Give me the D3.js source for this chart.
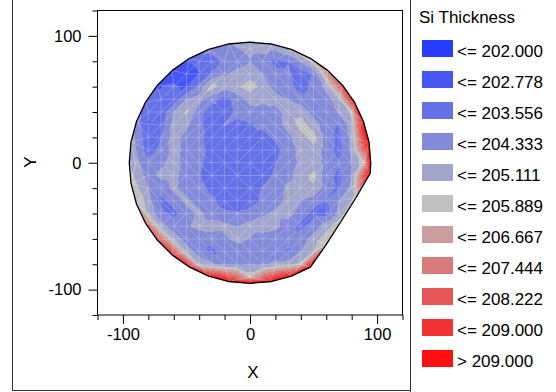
<!DOCTYPE html>
<html><head><meta charset="utf-8">
<script src="https://cdn.jsdelivr.net/npm/d3@7"></script>
<style>
body{margin:0;background:#fff}
svg{display:block}
text{font-family:Arial,"Liberation Sans",sans-serif;fill:#000}
</style>
</head><body>
<svg id="chart" width="556" height="392"></svg>
<script>
// ---- data (X, Y in mm; thickness values) ----
const gridX = [-90,-80,-70,-60,-50,-40,-30,-20,-10,0,10,20,30,40,50,60,70,80,90];
const gridY = [90,80,70,60,50,40,30,20,10,0,-10,-20,-30,-40,-50,-60,-70,-80,-90];
const _ = null;
const thicknessGrid = [
 [_,_,_,_,_,_,_,_,_,204.5,_,_,_,_,_,_,_,_,_],
 [_,_,_,_,_,203.2,203.0,203.8,204.0,204.3,204.0,203.3,203.5,204.4,_,_,_,_,_],
 [_,_,_,_,202.0,202.7,203.7,204.2,204.6,204.7,204.3,203.8,203.7,203.1,203.6,_,_,_,_],
 [_,_,_,202.9,202.6,203.8,205.4,204.7,205.0,205.5,204.8,204.0,203.8,203.2,203.8,204.6,_,_,_],
 [_,_,202.9,203.0,204.3,204.6,203.8,203.2,203.9,204.6,204.7,204.6,204.3,203.8,203.9,204.0,204.8,_,_],
 [_,202.9,203.0,204.3,205.2,203.8,203.1,203.0,203.8,204.0,203.6,204.0,204.7,204.9,204.0,203.8,204.4,205.3,_],
 [_,202.7,203.2,204.6,204.5,203.7,203.2,203.6,203.3,203.5,203.8,204.0,204.6,205.4,204.7,203.9,203.5,204.8,_],
 [_,203.0,203.5,204.7,204.0,203.8,203.1,203.0,203.1,203.2,203.2,203.7,204.1,204.8,205.4,204.0,203.3,204.6,_],
 [_,203.1,203.8,204.6,204.1,203.8,203.3,203.0,202.9,203.0,203.1,203.3,203.9,204.6,204.9,203.9,203.3,204.5,_],
 [204.6,203.8,204.2,204.7,204.0,203.7,203.2,203.0,202.9,203.0,203.1,203.5,203.9,204.5,204.8,204.0,203.6,204.3,205.6],
 [_,204.0,204.5,204.6,203.9,203.6,203.1,202.9,203.0,203.1,203.2,203.7,204.1,204.7,205.3,203.8,203.4,204.3,_],
 [_,204.3,203.9,204.5,204.0,203.8,203.3,203.1,203.0,203.2,203.6,203.9,204.5,204.7,205.0,203.9,203.4,204.6,_],
 [_,204.6,203.3,203.9,204.5,204.0,203.7,203.2,203.1,203.2,203.7,204.0,204.5,204.3,203.9,203.5,204.3,_,_],
 [_,204.9,203.8,203.3,204.0,204.5,204.0,203.7,203.6,203.8,204.2,204.5,204.6,204.0,203.3,203.2,204.6,_,_],
 [_,_,204.6,203.9,204.2,204.6,204.7,204.5,204.3,204.6,204.7,204.5,204.0,203.3,203.9,204.7,_,_,_],
 [_,_,_,204.8,204.0,203.8,203.9,204.2,204.5,204.3,204.0,203.9,203.8,204.0,204.6,_,_,_,_],
 [_,_,_,_,204.7,204.0,203.3,203.9,204.0,203.9,203.8,204.0,203.4,204.3,205.1,_,_,_,_],
 [_,_,_,_,_,204.8,204.4,204.1,204.1,204.3,204.2,204.5,204.7,205.3,_,_,_,_,_],
 [_,_,_,_,_,_,_,_,_,205.6,_,_,_,_,_,_,_,_,_]
];
// wafer edge measurement points
const edgeX = [95,93.6,89.3,82.3,72.8,61.1,47.5,32.5,16.5,0,-16.5,-32.5,-47.5,-61.1,-72.8,-82.3,-89.3,-93.6,-95,-93.6,-89.3,-82.3,-72.8,-61.1,-47.5,-32.5,-16.5,0,16.5,32.5,47.5,59.8,71.7,83.5,94.6];
const edgeY = [0,16.5,32.5,47.5,61.1,72.8,82.3,89.3,93.6,95,93.6,89.3,82.3,72.8,61.1,47.5,32.5,16.5,0,-16.5,-32.5,-47.5,-61.1,-72.8,-82.3,-89.3,-93.6,-95,-93.6,-89.3,-82.3,-64.8,-46.1,-27.4,-8.3];
const edgeThickness = [209.7,209.6,209.3,208.8,208.0,206.8,205.6,205.1,204.8,204.6,204.3,203.8,203.0,202.3,202.7,203.2,203.9,204.7,205.1,205.5,206.0,207.3,208.0,208.5,208.8,209.1,209.4,209.5,209.3,209.2,209.5,206.0,205.4,205.3,209.6];

const levels = [202.000,202.778,203.556,204.333,205.111,205.889,206.667,207.444,208.222,209.000];
const levelColors = ["#283cff","#4656f2","#6571e6","#838bd9","#a2a6cd","#c0c0c0","#cd9d9d","#d97a7a","#e65656","#f23333","#ff1010"];
const legendTitle = "Si Thickness";
const axisTicks = [-120,-100,-80,-60,-40,-20,0,20,40,60,80,100,120];
const majorTicks = [-100,0,100];
const xTitle = "X", yTitle = "Y";

// ---- drawing ----
const svg = d3.select("#chart");
const xs = d3.scaleLinear().domain([-120,120]).range([97.5,402.5]);
const ys = d3.scaleLinear().domain([-120,120]).range([315,10.5]);

// outer frame
svg.append("path").attr("d","M12.5,0V390.5H410.5V0M410.5,390.5V392")
  .attr("fill","none").attr("stroke","#333").attr("stroke-width",1);

// points
const pts = [];
thicknessGrid.forEach((row,i)=>row.forEach((v,j)=>{ if(v!=null) pts.push({x:xs(gridX[j]),y:ys(gridY[i]),v}); }));
edgeX.forEach((ex,k)=>pts.push({x:xs(ex),y:ys(edgeY[k]),v:edgeThickness[k]}));
const delaunay = d3.Delaunay.from(pts,p=>p.x,p=>p.y);

function clip(poly,t,keepAbove){
  const out=[];
  for(let i=0;i<poly.length;i++){
    const a=poly[i], b=poly[(i+1)%poly.length];
    const ain = keepAbove ? a.v>=t : a.v<=t;
    const bin = keepAbove ? b.v>=t : b.v<=t;
    if(ain) out.push(a);
    if(ain!==bin){ const s=(t-a.v)/(b.v-a.v); out.push({x:a.x+s*(b.x-a.x),y:a.y+s*(b.y-a.y),v:t}); }
  }
  return out;
}
const bandD = levelColors.map(()=>[]);
const T = delaunay.triangles;
for(let t=0;t<T.length;t+=3){
  const tri=[pts[T[t]],pts[T[t+1]],pts[T[t+2]]];
  for(let b=0;b<levelColors.length;b++){
    let poly=tri;
    if(b>0) poly=clip(poly,levels[b-1],true);
    if(poly.length<3) continue;
    if(b<levels.length) poly=clip(poly,levels[b],false);
    if(poly.length<3) continue;
    bandD[b].push("M"+poly.map(p=>p.x.toFixed(2)+","+p.y.toFixed(2)).join("L")+"Z");
  }
}
const plot = svg.append("g");
bandD.forEach((ds,b)=>{
  plot.append("path").attr("d",ds.join("")).attr("fill",levelColors[b])
    .attr("stroke",levelColors[b]).attr("stroke-width",0.5).attr("stroke-linejoin","round");
});
plot.append("path").attr("d",delaunay.render()).attr("fill","none")
  .attr("stroke","#fff").attr("stroke-opacity",0.35).attr("stroke-width",0.7);
plot.append("path").attr("d",delaunay.renderHull()).attr("fill","none")
  .attr("stroke","#000").attr("stroke-width",1.3).attr("stroke-linejoin","round");

// plot box
svg.append("rect").attr("x",97.5).attr("y",10.5).attr("width",305).attr("height",304.5)
  .attr("fill","none").attr("stroke","#000").attr("stroke-width",1);

// axes
const fmt = d=>majorTicks.includes(d)?String(d):"";
const gx = svg.append("g").attr("transform","translate(0,315)")
  .call(d3.axisBottom(xs).tickValues(axisTicks).tickFormat(fmt).tickSizeInner(9).tickSizeOuter(0).tickPadding(4));
const gy = svg.append("g").attr("transform","translate(97.5,0)")
  .call(d3.axisLeft(ys).tickValues(axisTicks).tickFormat(fmt).tickSizeInner(9).tickSizeOuter(0).tickPadding(7));
[gx,gy].forEach(g=>{
  g.select(".domain").remove();
  g.selectAll("text").attr("font-size",16.5).attr("font-family",'Arial,"Liberation Sans",sans-serif').attr("fill","#000");
});
gx.selectAll(".tick line").attr("y2",d=>majorTicks.includes(d)?9:5).attr("stroke","#000");
gy.selectAll(".tick line").attr("x2",d=>majorTicks.includes(d)?-9:-5).attr("stroke","#000");

svg.append("text").attr("x",253).attr("y",378).attr("text-anchor","middle").attr("font-size",17).text(xTitle);
svg.append("text").attr("transform","translate(36,162) rotate(-90)").attr("text-anchor","middle").attr("font-size",17).text(yTitle);

// legend
svg.append("text").attr("x",419).attr("y",23).attr("font-size",17).text(legendTitle);
const labels = levelColors.map((c,i)=> i<levels.length ? "<= "+levels[i].toFixed(3) : "> "+levels[levels.length-1].toFixed(3));
const lg = svg.append("g").selectAll("g").data(labels).join("g")
  .attr("transform",(d,i)=>`translate(0,${40+i*31})`);
lg.append("rect").attr("x",422).attr("y",0).attr("width",31).attr("height",17).attr("fill",(d,i)=>levelColors[i]);
lg.append("text").attr("x",457).attr("y",17).attr("font-size",17).text(d=>d);
</script>
</body></html>
